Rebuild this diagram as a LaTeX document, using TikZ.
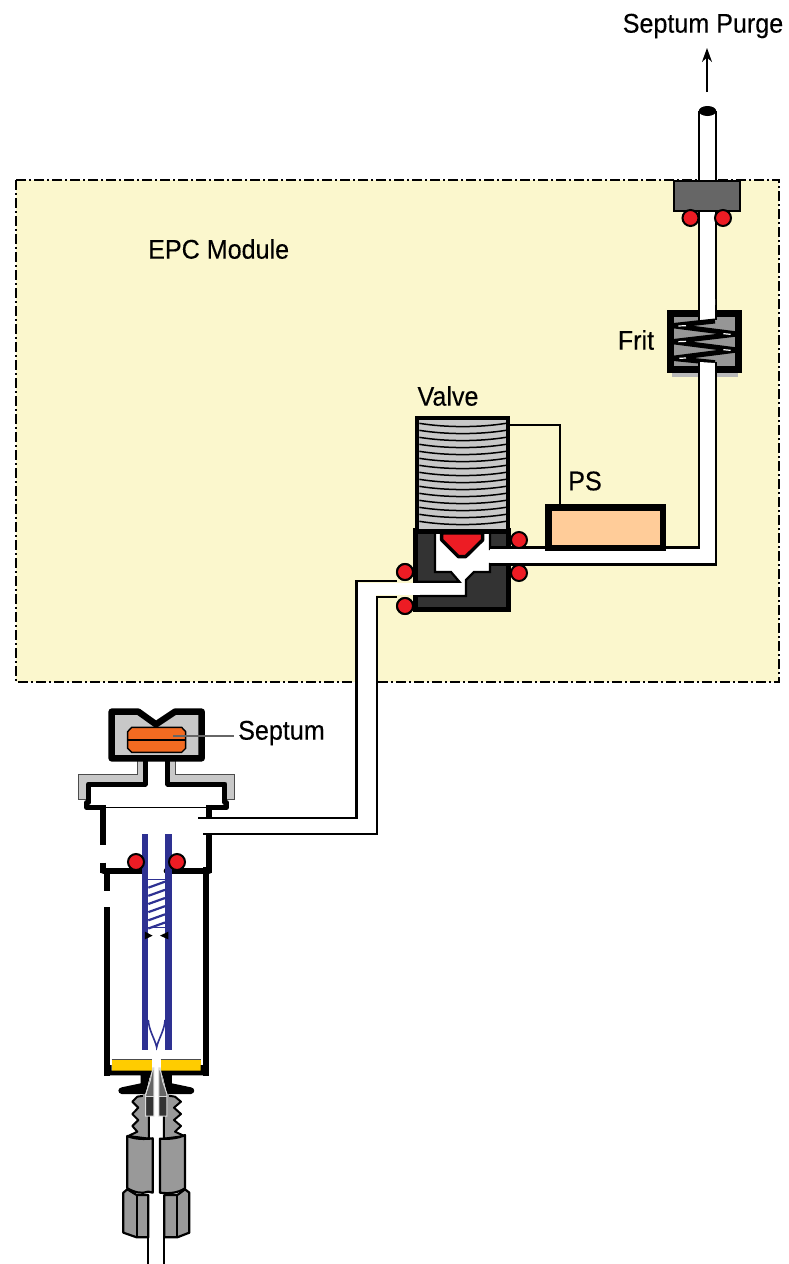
\documentclass[tikz,border=0pt]{standalone}
\usepackage{fontspec}
\setmainfont[FakeStretch=0.93,FakeBold=0.3]{Liberation Sans}
\usetikzlibrary{arrows.meta}
\definecolor{modfill}{HTML}{FBF7CD}
\definecolor{ringred}{HTML}{ED1C24}
\definecolor{liner}{HTML}{2E3192}
\definecolor{lgray}{HTML}{C8C8C8}
\definecolor{mgray}{HTML}{999999}
\definecolor{dgray}{HTML}{333333}
\definecolor{bgray}{HTML}{666666}
\definecolor{peach}{HTML}{FFCC99}
\definecolor{septum}{HTML}{F36B21}
\definecolor{seal}{HTML}{FFCC00}
\tikzset{
  lbl/.style={font=\fontsize{27}{27}\selectfont, inner sep=0pt, text=black},
  oring/.style={fill=ringred, draw=black, line width=2pt},
  tubeline/.style={draw=black, line width=2.2pt}
}
\newcommand{\oringat}[2]{\fill[oring] (#1,#2) circle (8);}
\begin{document}
\begin{tikzpicture}[x=1pt,y=-1pt,line join=miter]
\useasboundingbox (0,0) rectangle (788,1264);
% module
\draw[fill=modfill, line width=2pt, dash pattern=on 10pt off 3pt on 2pt off 3pt] (16,180) rectangle (779,682);

% ---- top pipe and ellipse
\fill[white] (700,110) rectangle (715,182);
\draw[tubeline] (699,111) -- (699,182) (716,111) -- (716,182);
\fill[black] (707.5,111) ellipse (8.7 and 5);
\draw[-{Stealth[length=14pt,width=10pt]}, line width=2pt] (707,92) coordinate (arrowfoot) -- (707,48) coordinate (arrowtip);

% ---- pipe, top block to frit
\fill[white] (700,205) rectangle (715,322);
\draw[tubeline] (699,205) -- (699,322) (716,205) -- (716,320);

% ---- frit
\fill[lgray!80!gray] (672,372) rectangle (738,377);
\draw[fill=mgray!90!gray, line width=6.5pt] (670.3,313.3) rectangle (738.7,369.7);
\fill[white] (700,299) -- (715,299) -- (715,320.5) -- (700,322.5) -- cycle;
\draw[line width=2.2pt] (699,305) -- (699,323) (716,305) -- (716,320);
\begin{scope}[shift={(660,305)},x=0.3333pt,y=-0.3333pt]
  \draw[line width=5pt, line join=round] (165,48) -- (36,62) -- (232,87) -- (36,110) -- (232,135) -- (36,160) -- (165,173);
  \draw[white, line width=1.2pt] (55,63) -- (78,62) (190,86) -- (212,88) (55,110) -- (78,109) (190,134) -- (212,136) (58,160) -- (78,159);
\end{scope}
\fill[white] (700,362) -- (715,363) -- (715,549) -- (700,549) -- cycle;
\draw[line width=2.2pt] (699,361) -- (699,547) (716,362) -- (716,565);

% ---- valve body
\begin{scope}[shift={(350,400)},x=0.3333pt,y=-0.3333pt]
  \draw[fill=dgray, line width=5pt] (198,393) rectangle (475,630);
  \draw[fill=white, line width=2.2pt] (255,396) -- (255,516) -- (303,516) -- (328,545) -- (200,545) -- (200,588) -- (348,588) -- (348,540) -- (372,516) -- (420,516) -- (420,492) -- (490,492) -- (490,447) -- (420,447) -- (420,396) -- cycle;
  \fill[white] (190,552) rectangle (340,581);
  \fill[white] (410,454) rectangle (500,485);
  % coil
  \draw[fill=lgray, line width=4pt] (202,53) rectangle (474,392);
  \foreach \k in {0,...,14}{
    \pgfmathsetmacro{\yy}{70+21*\k}
    \draw[line width=1.5pt] (208,\yy) .. controls (290,\yy+13) and (386,\yy+13) .. (468,\yy);
  }
  % plug
  \draw[fill=ringred, line width=3.4pt, line join=round] (275,399) -- (275,420) -- (325,470) -- (347,470) -- (398,420) -- (398,399) -- cycle;
  \fill[black] (200,386) rectangle (476,403);
\end{scope}

% ---- pipe PS / valve to frit
\fill[white] (490,549) rectangle (715,563);
\draw[tubeline] (490,547.5) -- (700,547.5) (490,564.5) -- (717,564.5);
\draw[line width=2pt] (510,425) coordinate (wirestart) -- (560,425) -- (560,505) coordinate (wireend);
\node[draw=black, fill=peach, line width=6.5pt, minimum width=114.5pt, minimum height=40.5pt, inner sep=0pt, anchor=center] (ps) at (605.5,527.5) {};

% ---- valve rings
\oringat{519}{540}
\oringat{519}{573}
\oringat{405}{572}
\oringat{405}{606}

% ---- pipe to inlet
\fill[white] (358,583) rectangle (376,834);
\fill[white] (198,819) rectangle (376,833);
\fill[white] (358,583) rectangle (420,595);
\draw[tubeline] (397,581) -- (356.5,581) -- (356.5,818) -- (198,818);
\draw[tubeline] (397,597) -- (377,597) -- (377,834) -- (203,834);
\oringat{405}{572}
\oringat{405}{606}

% ---- top block
\node[draw=black, fill=bgray, line width=2pt, minimum width=66pt, minimum height=30pt, inner sep=0pt] (block) at (707,195.5) {};
\oringat{690.5}{218}
\oringat{723}{218}

% ---- septum head + inlet top
\begin{scope}[shift={(60,690)},x=0.3333pt,y=-0.3333pt]
  % flange gray
  \draw[fill=lgray, line width=1pt, draw=black!70] (232,205) -- (232,253) -- (55,253) -- (55,328) -- (85,328) -- (85,285) -- (258,285) -- (258,205) -- cycle;
  \draw[fill=lgray, line width=1pt, draw=black!70] (348,205) -- (348,253) -- (523,253) -- (523,328) -- (497,328) -- (497,285) -- (322,285) -- (322,205) -- cycle;
  % head
  \draw[fill=lgray, line width=6.5pt, line join=round] (155,65) -- (235,65) -- (288,103) -- (345,65) -- (425,65) -- (425,205) -- (155,205) -- cycle;
  % septum
  \draw[fill=septum, line width=1.4pt] (203,125) -- (215,112) -- (365,112) -- (377,125) -- (377,175) -- (365,187) -- (215,187) -- (203,175) -- cycle;
  \draw[line width=2pt] (203,150) -- (377,150);
  \draw[bgray, line width=1.6pt] (340,138) coordinate (leadstart) -- (522,138) coordinate (leadend);
  % inner black lines
  \draw[line width=5pt, line join=round] (256,210) -- (256,282) -- (85,282) -- (85,338) -- (80,338) -- (80,352) -- (133,352);
  \draw[line width=5pt, line join=round] (324,210) -- (324,282) -- (495,282) -- (495,338) -- (500,338) -- (500,352) -- (447,352);
  \draw[line width=1.6pt] (130,353) -- (447,353);
  % walls
  \draw[line width=6pt] (130,345) -- (130,466);
  \draw[line width=6pt] (447,345) -- (447,382);
  \draw[line width=6pt] (447,432) -- (447,548);
  \draw[line width=6pt] (130,518) -- (130,548);
  \draw[line width=6pt, line cap=round] (130,542) -- (250,542);
  \draw[line width=6pt, line cap=round] (320,542) -- (447,542);
\end{scope}

% ---- liner and body
\begin{scope}[shift={(90,850)},x=0.3333pt,y=-0.3333pt]
  % lower walls
  \draw[line width=6pt] (52,65) -- (52,122);
  \draw[line width=6pt] (52,172) -- (52,678);
  \draw[line width=6pt] (347,50) -- (347,678);
  % hatch spring
  \foreach \k in {0,...,5}{
    \pgfmathsetmacro{\ya}{113+\k*24.5}
    \draw[liner, line width=2.2pt] (175,\ya) -- (225,\ya-18);
  }
  \draw[liner, line width=1.6pt] (175,88) -- (225,88) (175,232) -- (225,232);
  % tube
  \fill[liner] (155,-48) rectangle (175,600);
  \fill[liner] (225,-48) rectangle (245,600);
  \draw[liner, line width=1.6pt] (175,510) .. controls (176,540) and (196,570) .. (200,592) .. controls (204,570) and (224,540) .. (225,510);
  \draw[liner, line width=1.6pt] (200,590) -- (200,600);
  % arrowheads
  \fill[black] (165,245) -- (188,257) -- (165,268) -- cycle;
  \fill[black] (235,245) -- (210,257) -- (235,268) -- cycle;
\end{scope}
\oringat{136}{862}
\oringat{177}{862}

% ---- column fitting: thread, nut, hex (z = zoom coordinates)
\begin{scope}[shift={(100,1040)},x=0.3333pt,y=-0.3333pt]
  \draw[fill=mgray, line width=2pt, line join=round] (147,165) -- (112,170) -- (97,185) -- (115,203) -- (97,222) -- (115,240) -- (97,258) -- (112,275) -- (85,288) -- (147,296) -- cycle;
  \draw[fill=mgray, line width=2pt, line join=round] (192,165) -- (225,170) -- (243,185) -- (222,203) -- (243,222) -- (222,240) -- (243,258) -- (225,275) -- (253,288) -- (192,296) -- cycle;
  \draw[fill=mgray, line width=2.2pt, line join=round] (82,288) .. controls (105,298) and (135,298) .. (158,295) -- (158,458) -- (145,455) .. controls (125,462) and (105,458) .. (82,445) -- cycle;
  \draw[fill=mgray, line width=2.2pt, line join=round] (180,296) .. controls (205,298) and (235,295) .. (255,285) -- (255,445) .. controls (235,458) and (210,462) .. (180,458) -- cycle;
  \draw[fill=mgray, line width=2.2pt, line join=round] (82,448) -- (70,458) -- (70,578) -- (110,592) -- (145,592) -- (145,465) -- (110,465) -- cycle;
  \draw[line width=2pt] (110,465) -- (110,592);
  \draw[fill=mgray, line width=2.2pt, line join=round] (255,448) -- (268,458) -- (268,578) -- (232,592) -- (193,592) -- (193,465) -- (232,465) -- cycle;
  \draw[line width=2pt] (232,465) -- (232,592);
  \draw[line width=2pt] (145,590) -- (145,672);
  \draw[line width=2pt] (193,590) -- (193,672);
\end{scope}

% ---- seal, flange and ferrule
\begin{scope}[shift={(110,1050)},x=0.3333pt,y=-0.3333pt]
  \fill[seal] (5,27) rectangle (127,62);
  \fill[seal] (152,27) rectangle (272,62);
  \draw[black!70, line width=1pt] (5,27) -- (127,27) (152,27) -- (272,27);
  \fill[black, line join=round] (-6,45) -- (5,45) -- (5,62) -- (127,62) -- (118,85) -- (107,132) -- (35,132) .. controls (22,130) and (22,114) .. (35,112) -- (92,100) -- (92,76) -- (-6,76) -- cycle;
  \fill[black, line join=round] (284,45) -- (272,45) -- (272,62) -- (152,62) -- (160,85) -- (171,132) -- (243,132) .. controls (256,130) and (256,114) .. (243,112) -- (186,100) -- (186,76) -- (284,76) -- cycle;
  % gray behind ferrule
  \fill[mgray] (100,132) rectangle (115,198);
  \fill[mgray] (163,132) rectangle (178,198);
  \fill[dgray] (108,140) rectangle (132,198);
  \fill[dgray] (147,140) rectangle (171,198);
  \fill[bgray] (122,75) -- (132,58) -- (132,140) -- (108,140) -- cycle;
  \fill[bgray] (156,75) -- (147,58) -- (147,140) -- (171,140) -- cycle;
  \draw[white!85!black, line width=1pt] (129,52) -- (120,95) -- (107,132) -- (107,198) -- (132,198) -- (132,52);
  \draw[white!85!black, line width=1pt] (150,52) -- (158,95) -- (171,132) -- (171,198) -- (147,198) -- (147,52);
  \draw[white!85!black, line width=1pt] (107,140) -- (132,140) (147,140) -- (171,140);
\end{scope}

% ---- labels
\node[lbl] (purge) at (703,26) {Septum Purge};
\node[lbl, anchor=west] (epc) at (148,249) {EPC Module};
\node[lbl] (valve) at (448,396) {Valve};
\node[lbl] (pslbl) at (585,481) {PS};
\node[lbl] (frit) at (636,340) {Frit};
\node[lbl, anchor=west] (sept) at (238,733) {Septum};
\end{tikzpicture}
\end{document}
